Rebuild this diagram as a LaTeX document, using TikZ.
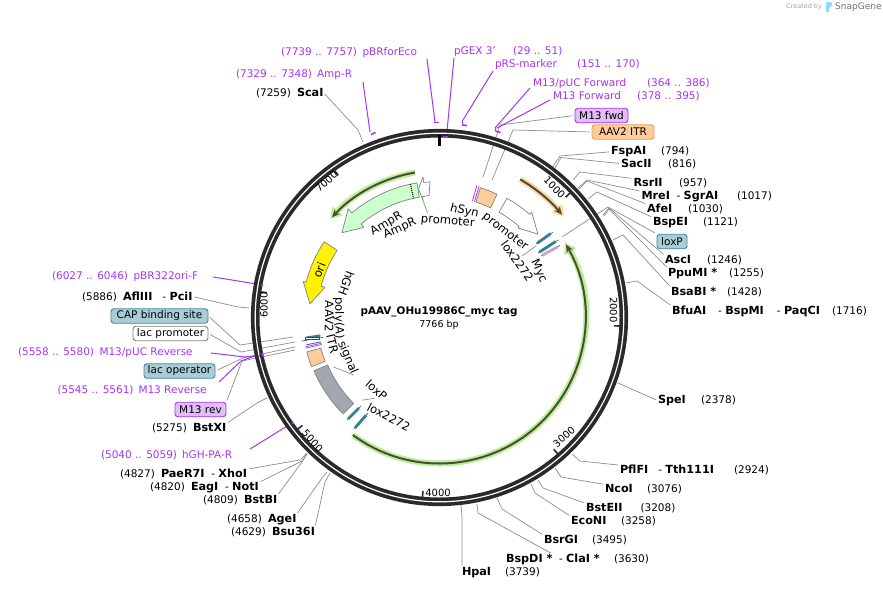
\documentclass[tikz,border=0pt]{standalone}
\usepackage{fontspec}
\setmainfont{DejaVu Sans}
\usetikzlibrary{arrows.meta,calc}
\definecolor{prm}{HTML}{A834F0}
\definecolor{ring}{HTML}{2A2A2A}
\definecolor{leadc}{HTML}{8E8E8E}
\definecolor{tealbox}{HTML}{A9CDD6}
\definecolor{tealedge}{HTML}{3C8A9E}
\definecolor{purpbox}{HTML}{E2BCF9}
\definecolor{orbox}{HTML}{FFCC99}
\definecolor{oredge}{HTML}{D9A066}
\definecolor{grnhalo}{HTML}{BDF08F}
\definecolor{orhalo}{HTML}{FFD996}
\definecolor{darkl}{HTML}{4A4A48}
\definecolor{amp}{HTML}{CCFFCC}
\definecolor{polya}{HTML}{A3A8B0}
\definecolor{pinkf}{HTML}{C9A3C4}
\definecolor{tealf}{HTML}{2F7F95}
\newcommand{\lab}{\fontsize{10.5}{12}\selectfont}
\newcommand{\curv}{\fontsize{11.6}{13}\selectfont}
\newcommand{\smalllab}{\fontsize{10}{12}\selectfont}
\newcommand{\bn}[1]{{\fontsize{11.2}{12}\selectfont\bfseries #1}}
\tikzset{
  sitetxt/.style={anchor=base west,inner sep=0pt,outer sep=0pt,font=\lab},
  leader/.style={draw=leadc,line width=0.7pt,shorten <=2pt},
  prline/.style={draw=prm,line width=1pt},
  prmark/.style={draw=prm,line width=1.6pt},
  tagbox/.style={rectangle,rounded corners=3pt,line width=0.9pt,inner sep=0pt,minimum height=14.5pt,font=\lab},
  tealtag/.style={tagbox,fill=tealbox,draw=tealedge},
  purptag/.style={tagbox,fill=purpbox,draw=prm},
  ortag/.style={tagbox,fill=orbox,draw=oredge},
  whitetag/.style={tagbox,fill=white,draw=gray},
  bandf/.style={draw=gray,line width=0.7pt,line join=round},
  ticktxt/.style={font=\smalllab,inner sep=0pt},
  tickl/.style={draw=ring,line width=1.6pt},
  halotip/.style={-{Stealth[length=11pt,width=13pt,inset=0pt]}},
  darktip/.style={-{Stealth[length=8pt,width=7pt]}},
  curveword/.style={anchor=base,inner sep=0pt,outer sep=0pt,font=\curv}
}
\newcommand{\site}[7][black]{%
  \node[sitetxt,text=#1] (#2) at ($(#3,#4)+(0,3.7)$) {#5};
  \node[sitetxt,text=#1] (#2x) at ($(#6,#4)+(0,3.7)$) {#7};}
\newcommand{\conn}[3]{%
  \coordinate (ce) at (#2); \coordinate (cr) at (#3);
  \draw[leader] (#1) -- (ce) -- (cr);}
\newcommand{\pline}[3]{%
  \coordinate (pa) at (#2); \coordinate (pb) at (#3);
  \draw[prline] (pa) -- (pb);}
\newcommand{\bandarrow}[8]{%
  \filldraw[bandf,#8] (#3:#1) arc[start angle=#3,end angle=#4,radius=#1]
    -- (#4:#5) -- (#7:{(#1+#2)/2}) -- (#4:#6) -- (#4:#2)
    arc[start angle=#4,end angle=#3,radius=#2] -- cycle;}
% name, radius, angle, word: letters' tops outward / inward
\newcommand{\wout}[4]{\node[curveword,rotate=#3-90] (#1) at (#3:#2) {#4};}
\newcommand{\win}[4]{\node[curveword,rotate=#3+90] (#1) at (#3:#2) {#4};}
\newcommand{\thinf}[3]{%
  \draw[darkl,line width=0.6pt] (#1) -- (#2);
  \draw[#3,line width=2.8pt,shorten >=1.5pt,shorten <=3pt] (#1) -- (#2);}
\begin{document}
\begin{tikzpicture}[x=1pt,y=-1pt]
\useasboundingbox (0,0) rectangle (883,589);
\fill[white] (0,0) rectangle (883,589);

\site{FspAI}{611}{151}{\bn{FspAI}}{661}{(794)}
\site{SacII}{621}{164}{\bn{SacII}}{668}{(816)}
\site{RsrII}{633.5}{183}{\bn{RsrII}}{679}{(957)}
\site{MreI}{641.5}{196}{\bn{MreI}\ \ - \bn{SgrAI}}{737}{(1017)}
\site{AfeI}{647}{209}{\bn{AfeI}}{688}{(1030)}
\site{BspEI}{653}{222}{\bn{BspEI}}{703}{(1121)}
\site{AscI}{665}{260}{\bn{AscI}}{707}{(1246)}
\site{PpuMI}{668}{273}{\bn{PpuMI *}}{729}{(1255)}
\site{BsaBI}{671}{292}{\bn{BsaBI *}}{727}{(1428)}
\site{BfuAI}{672}{311}{\bn{BfuAI}\ \ \ \hspace{2pt}- \bn{BspMI}\ \ \ \hspace{3pt}- \bn{PaqCI}}{832}{(1716)}
\site{SpeI}{658}{400}{\bn{SpeI}}{701}{(2378)}
\site{PflFI}{620}{470}{\bn{PflFI}\ \ \ - \bn{Tth111I}}{734}{(2924)}
\site{NcoI}{605}{489}{\bn{NcoI}}{647}{(3076)}
\site{BstEII}{586}{508}{\bn{BstEII}}{640.5}{(3208)}
\site{EcoNI}{571}{521}{\bn{EcoNI}}{621}{(3258)}
\site{BsrGI}{544}{540}{\bn{BsrGI}}{592}{(3495)}
\site{BspDI}{506}{559}{\bn{BspDI *}\ \ - \bn{ClaI *}}{614}{(3630)}
\site{HpaI}{462}{572}{\bn{HpaI}}{505}{(3739)}
\site{Bsu}{272}{532}{\bn{Bsu36I}}{231}{(4629)}
\site{AgeI}{268}{519}{\bn{AgeI}}{227}{(4658)}
\site{BstBI}{244}{500}{\bn{BstBI}}{203}{(4809)}
\site{EagI}{191}{487}{\bn{EagI}\ \ - \bn{NotI}}{150}{(4820)}
\site{PaeR}{161}{474}{\bn{PaeR7I}\ \ - \bn{XhoI}}{120}{(4827)}
\site{BstXI}{193}{428}{\bn{BstXI}}{152}{(5275)}
\site{AflIII}{123}{297}{\bn{AflIII}\ \ \ - \bn{PciI}}{82}{(5886)}
\site{ScaI}{297}{93}{\bn{ScaI}}{256}{(7259)}

\site[prm]{pBRf}{362.5}{52}{pBRforEco}{281}{(7739 .. 7757)}
\site[prm]{AmpRp}{317}{74}{Amp-R}{236}{(7329 .. 7348)}
\site[prm]{pGEX}{454}{51}{pGEX 3'}{513}{(29 .. 51)}
\site[prm]{pRS}{495}{64}{pRS-marker}{577}{(151 .. 170)}
\site[prm]{pucF}{533}{83}{M13/pUC Forward}{647}{(364 .. 386)}
\site[prm]{mF}{553}{96}{M13 Forward}{637}{(378 .. 395)}
\site[prm]{pBRori}{133.5}{276}{pBR322ori-F}{52}{(6027 .. 6046)}
\site[prm]{pucR}{99.5}{352}{M13/pUC Reverse}{18}{(5558 .. 5580)}
\site[prm]{mR}{138.5}{390}{M13 Reverse}{57.5}{(5545 .. 5561)}
\site[prm]{hGHp}{182}{455}{hGH-PA-R}{101}{(5040 .. 5059)}

\node[purptag,minimum width=53pt] (fwdtag) at (601.5,115.5) {M13 fwd};
\node[ortag,minimum width=62pt] (itrtag) at (623,132) {AAV2 ITR};
\node[tealtag,minimum width=30pt] (loxtag) at (672,241.5) {loxP};
\node[tealtag,minimum width=97pt] (captag) at (159.5,316) {CAP binding site};
\node[whitetag,minimum width=75pt] (lpro) at (170.5,333.5) {lac promoter};
\node[tealtag,minimum width=71pt] (lop) at (179.5,371) {lac operator};
\node[purptag,minimum width=51pt] (revtag) at (200.5,409.5) {M13 rev};

\conn{FspAI.west}{560,156}{552.5,167}
\conn{SacII.west}{561,157.5}{555,168}
\conn{RsrII.north west}{580,172}{573,180}
\conn{MreI.north west}{587,180}{578,188}
\conn{AfeI.north west}{587,181}{579,189}
\conn{BspEI.north west}{597,192}{588,199}
\conn{loxtag.north west}{608,207}{562,237}
\conn{AscI.north west}{609,208}{603,215}
\conn{PpuMI.north west}{609,209}{604,216}
\conn{BsaBI.north west}{623,235}{613,240}
\conn{BfuAI.north west}{637,281}{626,283}
\conn{SpeI.west}{618,383}{617,383}
\conn{PflFI.north west}{580,461}{572,454}
\conn{NcoI.north west}{561,477}{555,468}
\conn{BstEII.north west}{543,488}{538,480}
\conn{EcoNI.north west}{535,493}{531,484}
\conn{BsrGI.north west}{502,509}{497,498}
\conn{BspDI.north}{478,513}{477,504}
\conn{HpaI.north west}{462,517}{461,505}
\conn{Bsu.north east}{325,482}{330,473}
\conn{AgeI.north east}{322,478}{327,472}
\conn{BstBI.north east}{302,462}{307,454}
\conn{EagI.north east}{302,461}{307,454}
\conn{PaeR.north east}{300,460}{307,453}
\conn{BstXI.north east}{257,403}{267,398}
\conn{AflIII.east}{238,307}{249,308}
\conn{ScaI.east}{358,130}{363,142}
\conn{fwdtag.west}{500,125}{483,177}
\conn{itrtag.west}{513,130}{492,180}
\conn{captag.east}{240,345}{293,337}
\conn{lpro.east}{241,352}{295,342}
\conn{lop.east}{243,358}{295,347}
\conn{revtag.north east}{242,361}{295,350}

\pline{pBRf}{427,59}{435,122}
\pline{AmpRp}{363,82}{370,132}
\coordinate (pg0) at (454,58); \coordinate (pg1) at (447,131);
\draw[prline] (pg0) -- (pg1);
\pline{pRS}{493,71}{463,120}
\pline{pucF}{530,88}{495,128}
\pline{mF}{550,100}{497,128}
\pline{pBRori}{213,277}{257,284}
\coordinate (pr1) at (245,357); \coordinate (pr2) at (262,355); \coordinate (pr3) at (211,353);
\draw[prline] (pr3) -- (pr1) -- (pr2);
\coordinate (pr4) at (219,382); \coordinate (pr5) at (241,361); \coordinate (pr6) at (263,353);
\draw[prline] (pr4) -- (pr5) -- (pr6);
\pline{hGHp}{250,449}{292,423}

\begin{scope}[shift={(439.5,317.5)},x=1pt,y=1pt]
  \draw[ring,line width=8.6pt] (0,0) circle[radius=184.3];
  \draw[white,line width=1.2pt] (0,0) circle[radius=184.3];
  \draw[black,line width=3pt] (90:183) -- (90:171.5);
  \foreach \a in {43.64,-2.72,-49.07,-95.43,-141.79,171.85,125.49}
    \draw[tickl] (\a:180.5) -- (\a:174.5);

  \draw[grnhalo,line width=6pt,halotip] (99.6:147) arc[start angle=99.6,end angle=138,radius=147];
  \draw[darkl,line width=2pt,darktip] (99.6:147) arc[start angle=99.6,end angle=137,radius=147];
  \draw[orhalo,line width=6pt,halotip] (59.7:160) arc[start angle=59.7,end angle=39,radius=160];
  \draw[darkl,line width=2pt,darktip] (59.7:160) arc[start angle=59.7,end angle=40,radius=160];
  \draw[grnhalo,line width=6pt,halotip] (233.6:146) arc[start angle=233.6,end angle=391,radius=146];
  \draw[darkl,line width=2pt,darktip] (233.6:146) arc[start angle=233.6,end angle=390,radius=146];

  \bandarrow{136.5}{122}{99.5}{130}{142}{117.7}{139}{fill=amp}
  \draw[black,densely dotted,line width=1pt] (102.3:136.5) -- (102.3:122);
  \filldraw[bandf,fill=white] (94:136) -- (96.7:136) -- (96.7:141.5) -- (99.3:130) -- (98:118.7) -- (98:122) -- (94.9:122.5) -- cycle;
  \bandarrow{138}{122.5}{146.7}{165.2}{141}{118.5}{174}{fill=yellow}
  \bandarrow{137}{121}{60.5}{48.8}{140}{119}{40.3}{fill=white}
  \filldraw[bandf,fill=orbox] (65:136) arc[start angle=65,end angle=72.5,radius=136] -- (72.5:121) arc[start angle=72.5,end angle=65,radius=121] -- cycle;
  \draw[prm,line width=0.8pt] (73.2:121) -- (73.2:137);
  \draw[prm,line width=0.8pt] (74.2:121) -- (74.2:137);
  \filldraw[bandf,fill=polya] (203:136.3) arc[start angle=203,end angle=225,radius=136.3] -- (225:121.5) arc[start angle=225,end angle=203,radius=121.5] -- cycle;
  \filldraw[bandf,fill=orbox] (194.5:137) arc[start angle=194.5,end angle=201,radius=137] -- (201:122.5) arc[start angle=201,end angle=194.5,radius=122.5] -- cycle;

  \draw[tealf,line width=2.2pt] (188.6:120.5) -- (188.6:135);
  \draw[darkl,line width=0.6pt] (189.7:118) -- (189.7:140);
  \draw[darkl,fill=white,line width=0.5pt] (190.2:122) rectangle ++(-14,1.8);
  \draw[tealf,line width=0.9pt] (191.6:121) -- (191.6:136);
  \draw[prm,line width=0.7pt] (192.3:121) -- (192.3:137);
  \draw[prm,line width=0.7pt] (192.9:121) -- (192.9:137);

  \draw[leadc,line width=0.7pt] (98.2:120) -- (96.5:105);
  \draw[leadc,line width=0.7pt] (214:103) -- (205:117);
  \draw[leadc,line width=0.7pt] (227:113) -- (231:104);

  \wout{wAmpR}{104.5}{119.5}{AmpR}
  \wout{wAmpRb}{94}{114}{AmpR}
  \wout{wAmpRc}{93.5}{85.1}{promoter}
  \wout{wSyn}{106}{76.8}{hSyn}
  \wout{wSynb}{105}{52.5}{promoter}
  \wout{wLoxa}{92}{36}{lox2272}
  \wout{wMyc}{106.5}{25}{Myc}
  \win{wGHa}{103.5}{159.85}{hGH}
  \win{wGHb}{104}{180.4}{poly(A)}
  \win{wGHc}{103.5}{203.6}{signal}
  \win{wITRa}{114.5}{179.4}{AAV2}
  \win{wITRb}{114.5}{193.8}{ITR}
  \win{wLoxP}{100.5}{229}{loxP}
  \win{wLoxb}{116}{243}{lox2272}
  \wout{wOri}{125}{158.5}{ori}
\end{scope}

\coordinate (ta1) at (553,232); \coordinate (ta2) at (536,244);
\thinf{ta1}{ta2}{tealf}
\coordinate (ta3) at (558,240); \coordinate (ta4) at (538,253);
\thinf{ta3}{ta4}{tealf}
\coordinate (ta5) at (560,245.5); \coordinate (ta6) at (541,256);
\thinf{ta5}{ta6}{pinkf}
\coordinate (tb1) at (347,420); \coordinate (tb2) at (361,406);
\thinf{tb2}{tb1}{tealf}
\coordinate (tb3) at (354,429); \coordinate (tb4) at (368,413);
\thinf{tb4}{tb3}{tealf}
\coordinate (lx1) at (522,256); \coordinate (lx2) at (536,246);
\draw[leadc,line width=0.7pt] (lx1) -- (lx2);

\draw[prmark] (433.5,122.5) -- (438.5,122.5);
\draw[prmark] (443,137) -- (447.5,137);
\draw[prmark] (371,134.5) -- (375.5,132.5);
\draw[prm,line width=1pt] (462,120) -- (462,125) ;
\draw[prmark] (462,125) -- (467,125.5);
\draw[prmark] (495.5,131) -- (500.5,132.5);
\draw[prm,line width=1pt] (496,128) -- (495,131);
\fill[prm] (262,285.5) circle[radius=1.3];
\draw[prmark] (262,353) -- (263.5,357);
\draw[prm,line width=1pt] (260,353.5) -- (259,357);
\fill[prm] (293,423) circle[radius=1.3];

\node[ticktxt,rotate=-46] (t1k) at (554.5,187.5) {1000};
\node[ticktxt,rotate=-90] (t2k) at (613.5,310) {2000};
\node[ticktxt,rotate=41] (t3k) at (564,437) {3000};
\node[ticktxt] (t4k) at (438,493) {4000};
\node[ticktxt,rotate=-48] (t5k) at (312.5,441) {5000};
\node[ticktxt,rotate=90] (t6k) at (264,305) {6000};
\node[ticktxt,rotate=42] (t7k) at (326.5,181.5) {7000};

\node[font=\fontsize{10.4}{12}\selectfont\bfseries,inner sep=0pt] (title) at (439,312) {pAAV\_OHu19986C\_myc tag};
\node[font=\fontsize{9.5}{12}\selectfont,inner sep=0pt] (size) at (439,325) {7766 bp};

\node[anchor=west,inner sep=0pt,text=black!35,font=\fontsize{6.5}{8}\selectfont] (cby) at (786,7) {Created by};
\fill[cyan!45] (826,2) -- (832,2.5) .. controls (833,6) and (830,7) .. (829,8) -- (829,12) -- (826,12) -- cycle;
\node[anchor=west,inner sep=0pt,text=black!55,font=\fontsize{9}{10}\selectfont] (snap) at (835,7) {SnapGene};
\end{tikzpicture}
\end{document}
